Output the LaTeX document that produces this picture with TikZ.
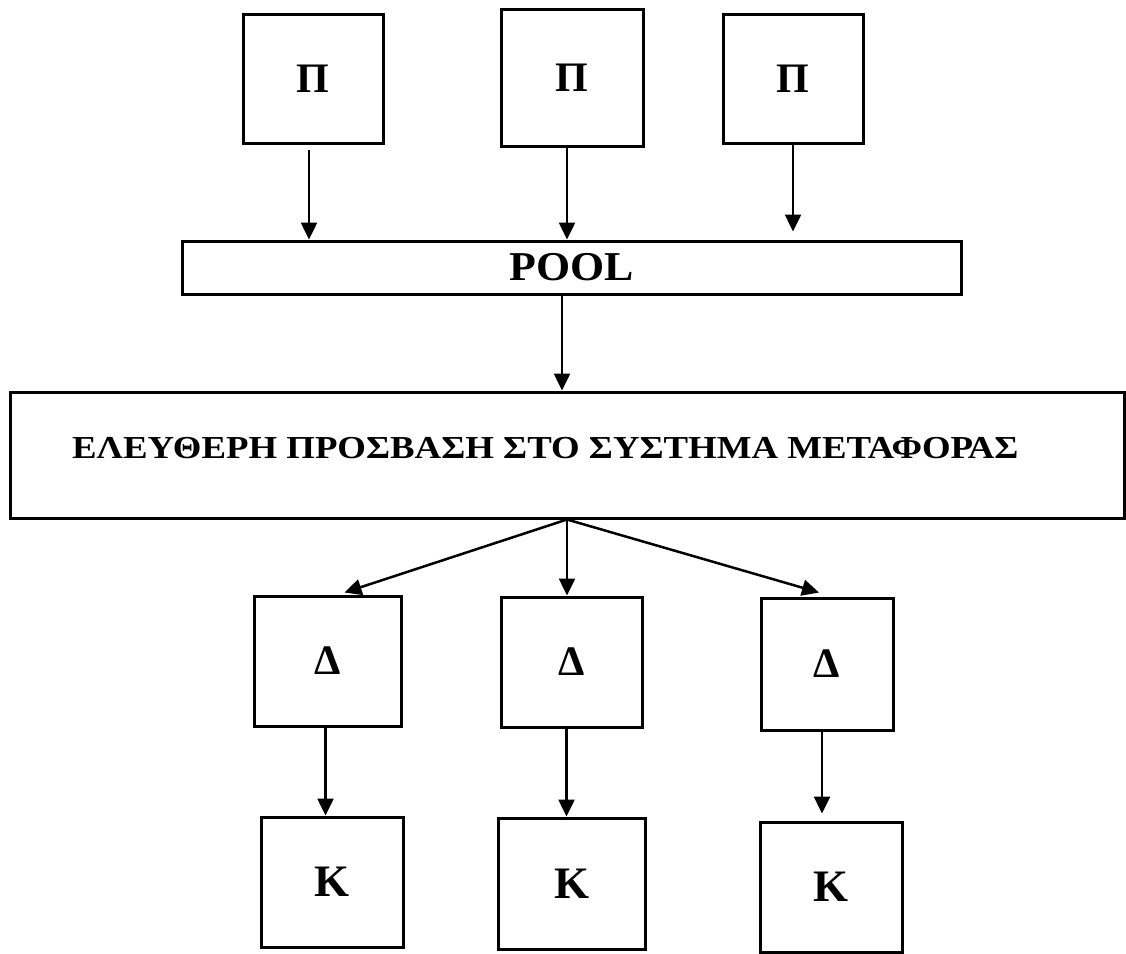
\documentclass[tikz,border=0pt]{standalone}
\usepackage{fontspec}
\setmainfont{Liberation Serif}
\usetikzlibrary{arrows.meta}
\begin{document}
\begin{tikzpicture}[x=1pt,y=-1pt,
  box/.style={draw=black,line width=3pt,inner sep=0pt,minimum width=#1},
  arr/.style={line width=2.5pt,-{Triangle[length=17pt,width=16pt]}},
  lbl/.style={font=\fontsize{42}{42}\selectfont\bfseries}]
\useasboundingbox (0,0) rectangle (1126,953);
% top boxes
\node[box=140,minimum height=129,lbl] (p1) at (313,78.5) {Π};
\node[box=142,minimum height=137,lbl] (p2) at (572,77.5) {Π};
\node[box=140,minimum height=129,lbl] (p3) at (793,78.5) {Π};
% pool
\node[box=779,minimum height=53,font=\fontsize{41}{41}\selectfont\bfseries] (pool) at (571.5,267.5) {\scalebox{1.07}[1]{POOL}};
% big box
\node[box=1114,minimum height=126] (big) at (567,455) {};
\node[anchor=base west,inner sep=0pt,font=\fontsize{32}{32}\selectfont\bfseries] (bigt) at (72,458) {\scalebox{1.15}[1]{ΕΛΕΥΘΕΡΗ ΠΡΟΣΒΑΣΗ ΣΤΟ ΣΥΣΤΗΜΑ ΜΕΤΑΦΟΡΑΣ}};
% Delta boxes
\node[box=147,minimum height=130,font=\fontsize{42}{42}\selectfont\bfseries] (d1) at (327.5,661) {Δ};
\node[box=141,minimum height=130,font=\fontsize{42}{42}\selectfont\bfseries] (d2) at (571.5,662) {Δ};
\node[box=132,minimum height=132,font=\fontsize{42}{42}\selectfont\bfseries] (d3) at (827,664) {Δ};
% K boxes
\node[box=142,minimum height=130,font=\fontsize{45}{45}\selectfont\bfseries] (k1) at (332,882) {K};
\node[box=147,minimum height=131,font=\fontsize{45}{45}\selectfont\bfseries] (k2) at (571.5,883.5) {K};
\node[box=142,minimum height=130,font=\fontsize{45}{45}\selectfont\bfseries] (k3) at (831,887) {K};
% arrows top
\draw[arr] ([xshift=-4pt,yshift=-5pt]p1.south) -- ([xshift=-4pt]p1.south |- pool.north);
\draw[arr] ([xshift=-5pt]p2.south) -- ([xshift=-5pt]p2.south |- pool.north);
\draw[arr] ([yshift=3pt]p3.south) -- ([yshift=8pt]p3.south |- pool.north);
\draw[arr] ([xshift=-9.5pt]pool.south) -- ([xshift=-9.5pt]pool.south |- big.north);
% fan
\draw[arr] (big.south) -- ([xshift=17pt,yshift=2pt]d1.north);
\draw[arr] (big.south) -- (big.south |- d2.north);
\draw[arr] (big.south) -- ([xshift=-8pt,yshift=4pt]d3.north);
% Delta to K
\draw[arr] ([xshift=-2pt]d1.south) -- ([xshift=-2pt]d1.south |- k1.north);
\draw[arr] ([xshift=-5pt]d2.south) -- ([xshift=-5pt]d2.south |- k2.north);
\draw[arr] ([xshift=-5pt]d3.south) -- ([xshift=-5pt,yshift=7pt]d3.south |- k3.north);
\end{tikzpicture}
\end{document}
